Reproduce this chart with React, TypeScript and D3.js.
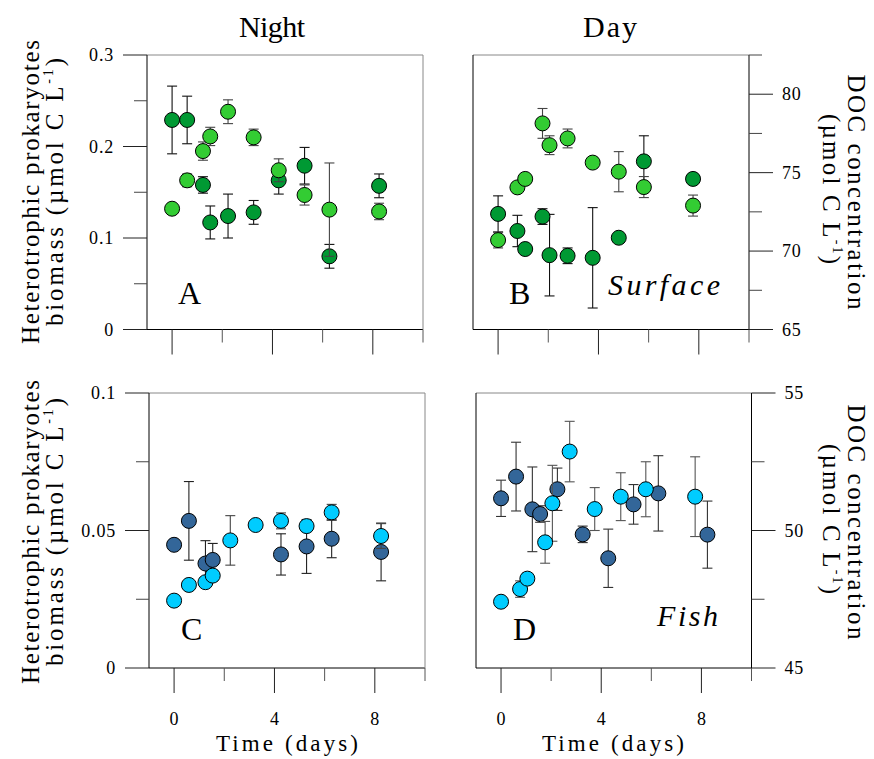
import React from 'react'
import * as d3 from 'd3'

// sampling times (days)
const nightSurfDays = [0, 0.6, 1.23, 1.52, 2.23, 3.25, 4.25, 5.28, 6.27, 8.25]
const daySurfDays = [0, 0.77, 1.08, 1.77, 2.05, 2.77, 3.77, 4.81, 5.81, 7.77]
const nightFishDays = [0, 0.59, 1.25, 1.54, 2.24, 3.25, 4.26, 5.28, 6.28, 8.25]
const nightFishDarkDays = [0, 0.59, 1.25, 1.54, 4.26, 5.28, 6.28, 8.25]
const dayFishDarkDays = [0, 0.6, 1.25, 1.56, 2.25, 3.26, 4.28, 5.29, 6.28, 8.24]
const dayFishLightDays = [0, 0.76, 1.05, 1.76, 2.05, 2.74, 3.74, 4.78, 5.78, 7.75]

// A - night, surface (biomass)
const aDark = [0.229, 0.229, 0.158, 0.117, 0.124, 0.128, 0.163, 0.179, 0.080, 0.157]
const aDarkErr = [0.037, 0.026, 0.009, 0.018, 0.024, 0.013, 0.015, 0.020, 0.013, 0.013]
const aLight = [0.132, 0.163, 0.195, 0.211, 0.238, 0.210, 0.174, 0.147, 0.131, 0.129]
const aLightErr = [0.003, 0.007, 0.010, 0.010, 0.013, 0.009, 0.0125, 0.011, 0.051, 0.009]

// B - day, surface (DOC)
const bDark = [72.37, 71.28, 70.13, 72.2, 69.74, 69.7, 69.57, 70.85, 75.72, 74.6]
const bDarkErr = [1.15, 1.0, 0.3, 0.5, 2.6, 0.5, 3.2, 0.2, 1.63, 0.2]
const bLight = [70.7, 74.06, 74.6, 78.14, 76.75, 77.18, 75.64, 75.06, 74.08, 72.9]
const bLightErr = [0.5, 0.2, 0.2, 0.95, 0.6, 0.6, 0.2, 1.28, 0.67, 0.67]

// C - night, fish (biomass)
const cDark = [0.0448, 0.0535, 0.038, 0.0393, 0.0413, 0.0442, 0.047, 0.0422]
const cDarkErr = [0.001, 0.0143, 0.0083, 0.006, 0.0075, 0.0098, 0.0069, 0.0105]
const cLight = [0.0245, 0.0302, 0.0312, 0.0336, 0.0464, 0.052, 0.0535, 0.0516, 0.0566, 0.048]
const cLightErr = [0.0005, 0.0005, 0.0005, 0.001, 0.009, 0.001, 0.0029, 0.002, 0.0029, 0.0045]

// D - day, fish (DOC)
const dDark = [51.17, 51.96, 50.77, 50.6, 51.5, 49.86, 48.99, 50.95, 51.35, 49.85]
const dDarkErr = [0.66, 1.25, 1.54, 0.3, 0.77, 0.3, 1.06, 0.72, 1.37, 1.22]
const dLight = [47.41, 47.87, 48.25, 49.57, 50.99, 52.87, 50.78, 51.23, 51.5, 51.23]
const dLightErr = [0.1, 0.3, 0.2, 0.76, 1.38, 1.1, 0.78, 0.87, 1.0, 1.45]

const xMajor = [0, 4, 8]
const xMinor = [2, 6, 10]

const FONT = 'Liberation Serif, DejaVu Serif, serif'
const green = '#009933'
const lightGreen = '#33cc33'
const navy = '#336699'
const cyan = '#00ccff'

type Series = { days: number[]; vals: number[]; errs: number[]; fill: string; err: string }
type PanelDef = {
  left: number; right: number; top: number; bottom: number
  yDomain: [number, number]; yMajor: number[]; yMinor: number[]
  side: 'left' | 'right'; xLabels: boolean
  series: Series[]
}

const panels: PanelDef[] = [
  {
    left: 147, right: 423, top: 55, bottom: 329.5, yDomain: [0, 0.3],
    yMajor: [0, 0.1, 0.2, 0.3], yMinor: [0.05, 0.15, 0.25], side: 'left', xLabels: false,
    series: [
      { days: nightSurfDays, vals: aDark, errs: aDarkErr, fill: green, err: '#111' },
      { days: nightSurfDays, vals: aLight, errs: aLightErr, fill: lightGreen, err: '#444' },
    ],
  },
  {
    left: 473, right: 749, top: 55, bottom: 329.5, yDomain: [65, 82.5],
    yMajor: [65, 70, 75, 80], yMinor: [67.5, 72.5, 77.5, 82.5], side: 'right', xLabels: false,
    series: [
      { days: daySurfDays, vals: bDark, errs: bDarkErr, fill: green, err: '#111' },
      { days: daySurfDays, vals: bLight, errs: bLightErr, fill: lightGreen, err: '#444' },
    ],
  },
  {
    left: 149, right: 425, top: 393, bottom: 668, yDomain: [0, 0.1],
    yMajor: [0, 0.05, 0.1], yMinor: [0.025, 0.075], side: 'left', xLabels: true,
    series: [
      { days: nightFishDarkDays, vals: cDark, errs: cDarkErr, fill: navy, err: '#222' },
      { days: nightFishDays, vals: cLight, errs: cLightErr, fill: cyan, err: '#444' },
    ],
  },
  {
    left: 476, right: 751.5, top: 393, bottom: 668, yDomain: [45, 55],
    yMajor: [45, 50, 55], yMinor: [47.5, 52.5], side: 'right', xLabels: true,
    series: [
      { days: dayFishDarkDays, vals: dDark, errs: dDarkErr, fill: navy, err: '#333' },
      { days: dayFishLightDays, vals: dLight, errs: dLightErr, fill: cyan, err: '#555' },
    ],
  },
]

function Panel({ p }: { p: PanelDef }) {
  const x = d3.scaleLinear().domain([-1, 10]).range([p.left, p.right])
  const y = d3.scaleLinear().domain(p.yDomain).range([p.bottom, p.top])
  const axX = p.side === 'left' ? p.left : p.right
  const dir = p.side === 'left' ? -1 : 1
  return (
    <g>
      {/* frame */}
      <line x1={p.left} x2={p.right} y1={p.top} y2={p.top} stroke="#888" />
      <line x1={p.left} x2={p.right} y1={p.bottom} y2={p.bottom} stroke="#000" />
      <line x1={p.left} x2={p.left} y1={p.top} y2={p.bottom} stroke="#000" />
      <line x1={p.right} x2={p.right} y1={p.top} y2={p.bottom} stroke={p.side === 'right' ? '#000' : '#888'} />

      {/* x ticks */}
      {xMajor.map(d => (
        <line key={'xM' + d} x1={x(d)} x2={x(d)} y1={p.bottom} y2={p.bottom + 25} stroke="#222" />
      ))}
      {xMinor.map(d => (
        <line key={'xm' + d} x1={x(d)} x2={x(d)} y1={p.bottom} y2={p.bottom + 13} stroke="#555" />
      ))}
      {p.xLabels && xMajor.map(d => (
        <text key={'xl' + d} x={x(d)} y={p.bottom + 57} textAnchor="middle" fontSize={18} fontFamily={FONT}>{d}</text>
      ))}

      {/* y ticks */}
      {p.yMajor.map(v => (
        <line key={'yM' + v} x1={axX} x2={axX + dir * 24} y1={y(v)} y2={y(v)} stroke="#222" />
      ))}
      {p.yMinor.map(v => (
        <line key={'ym' + v} x1={axX} x2={axX + dir * 13} y1={y(v)} y2={y(v)} stroke="#444" />
      ))}
      {p.yMajor.map(v => (
        <text key={'yl' + v} x={axX + dir * 33} y={y(v) + 6} textAnchor={p.side === 'left' ? 'end' : 'start'}
          fontSize={18} letterSpacing={0.8} fontFamily={FONT}>{String(v)}</text>
      ))}

      {/* data */}
      {p.series.map((s, si) => (
        <g key={si}>
          {s.days.map((d, i) => {
            const cx = x(d)
            const hi = y(s.vals[i] + s.errs[i])
            const lo = y(s.vals[i] - s.errs[i])
            return (
              <g key={'e' + i} stroke={s.err} strokeWidth={1.1}>
                <line x1={cx} x2={cx} y1={hi} y2={lo} />
                <line x1={cx - 5} x2={cx + 5} y1={hi} y2={hi} />
                <line x1={cx - 5} x2={cx + 5} y1={lo} y2={lo} />
              </g>
            )
          })}
          {s.days.map((d, i) => (
            <circle key={'c' + i} cx={x(d)} cy={y(s.vals[i])} r={7.5} fill={s.fill} stroke="#000" strokeWidth={1} />
          ))}
        </g>
      ))}
    </g>
  )
}

function LeftTitle({ cy }: { cy: number }) {
  return (
    <g fontFamily={FONT} fontSize={25}>
      <text transform={`translate(39,${cy}) rotate(-90)`} textAnchor="middle" textLength={304} lengthAdjust="spacing">
        Heterotrophic prokaryotes
      </text>
      <text transform={`translate(63,${cy}) rotate(-90)`} textAnchor="middle" textLength={268} lengthAdjust="spacing">
        biomass (µmol C L<tspan fontSize={14} dy={-10}>-1</tspan><tspan dy={10}>)</tspan>
      </text>
    </g>
  )
}

function RightTitle({ cy }: { cy: number }) {
  return (
    <g fontFamily={FONT} fontSize={25}>
      <text transform={`translate(848,${cy}) rotate(90)`} textAnchor="middle" textLength={235} lengthAdjust="spacing">
        DOC concentration
      </text>
      <text transform={`translate(823,${cy - 3}) rotate(90)`} textAnchor="middle" textLength={150} lengthAdjust="spacing">
        (µmol C L<tspan fontSize={14} dy={-10}>-1</tspan><tspan dy={10}>)</tspan>
      </text>
    </g>
  )
}

export default function App() {
  return (
    <svg width={874} height={759} viewBox="0 0 874 759"
      style={{ position: 'absolute', left: 0, top: 0, display: 'block' }}>
      <rect width={874} height={759} fill="#fff" />
      {panels.map((p, i) => <Panel key={i} p={p} />)}

      <g fontFamily={FONT} fill="#000">
        <text x={272} y={37} textAnchor="middle" fontSize={30} textLength={66} lengthAdjust="spacing">Night</text>
        <text x={610} y={37} textAnchor="middle" fontSize={30} textLength={54} lengthAdjust="spacing">Day</text>

        <text x={178} y={304} fontSize={32}>A</text>
        <text x={509} y={304} fontSize={32}>B</text>
        <text x={181} y={640} fontSize={32}>C</text>
        <text x={513} y={640} fontSize={32}>D</text>
        <text x={608} y={295} fontSize={30} fontStyle="italic" textLength={112} lengthAdjust="spacing">Surface</text>
        <text x={657} y={626} fontSize={30} fontStyle="italic" textLength={61} lengthAdjust="spacing">Fish</text>

        <text x={287} y={751} textAnchor="middle" fontSize={23} textLength={142} lengthAdjust="spacing">Time (days)</text>
        <text x={613} y={751} textAnchor="middle" fontSize={23} textLength={142} lengthAdjust="spacing">Time (days)</text>
      </g>

      <LeftTitle cy={192} />
      <LeftTitle cy={532} />
      <RightTitle cy={192} />
      <RightTitle cy={522} />
    </svg>
  )
}
